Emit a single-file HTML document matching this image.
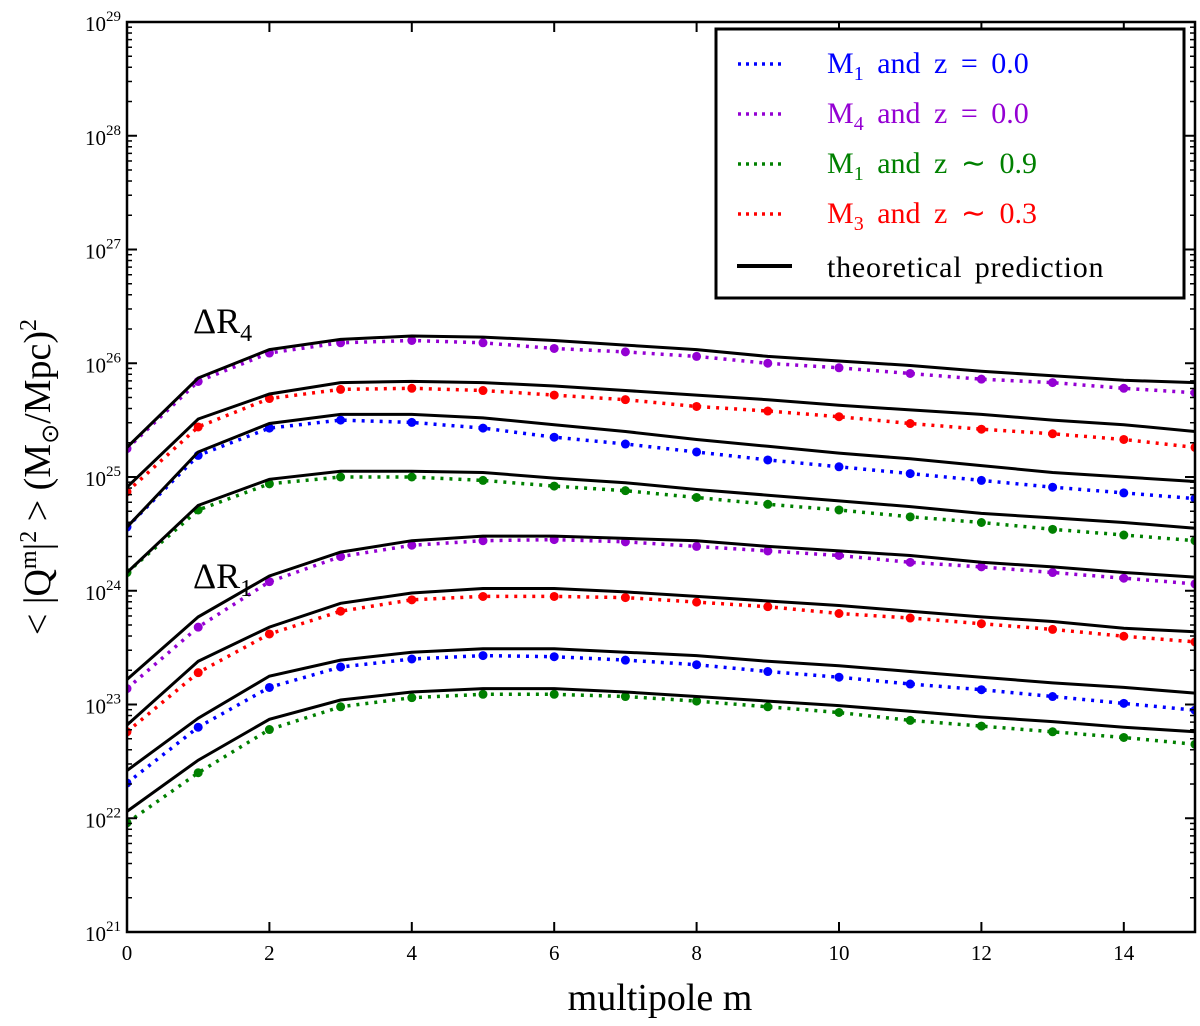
<!DOCTYPE html>
<html><head><meta charset="utf-8"><style>
html,body{margin:0;padding:0;background:#fff;}
svg{display:block;font-family:"Liberation Serif",serif;}
</style></head><body>
<svg id="chart" width="1200" height="1026" viewBox="0 0 1200 1026" xmlns="http://www.w3.org/2000/svg">
<g id="grid"></g>
<g id="series"></g>
<g id="axes"></g>
<g id="legend">
  <rect x="716" y="29" width="468" height="269" fill="#fff" stroke="#000" stroke-width="3"/>
  <g>
    <line x1="738" y1="64" x2="786" y2="64" stroke="#0000ff" stroke-width="3.5" stroke-dasharray="3,5"/>
    <text x="827" y="73" font-size="30" fill="#0000ff" word-spacing="6">M<tspan font-size="20" dy="7">1</tspan><tspan dy="-7"> and z = 0.0</tspan></text>
  </g>
  <g>
    <line x1="738" y1="114" x2="786" y2="114" stroke="#9400d3" stroke-width="3.5" stroke-dasharray="3,5"/>
    <text x="827" y="123" font-size="30" fill="#9400d3" word-spacing="6">M<tspan font-size="20" dy="7">4</tspan><tspan dy="-7"> and z = 0.0</tspan></text>
  </g>
  <g>
    <line x1="738" y1="164" x2="786" y2="164" stroke="#008000" stroke-width="3.5" stroke-dasharray="3,5"/>
    <text x="827" y="173" font-size="30" fill="#008000" word-spacing="6">M<tspan font-size="20" dy="7">1</tspan><tspan dy="-7"> and z ∼ 0.9</tspan></text>
  </g>
  <g>
    <line x1="738" y1="214" x2="786" y2="214" stroke="#ff0000" stroke-width="3.5" stroke-dasharray="3,5"/>
    <text x="827" y="223" font-size="30" fill="#ff0000" word-spacing="6">M<tspan font-size="20" dy="7">3</tspan><tspan dy="-7"> and z ∼ 0.3</tspan></text>
  </g>
  <g>
    <line x1="737" y1="266" x2="792" y2="266" stroke="#000" stroke-width="4"/>
    <text x="827" y="277" font-size="30" fill="#000" word-spacing="4" letter-spacing="0.8">theoretical prediction</text>
  </g>
</g>
<text x="193" y="333" font-size="36">ΔR<tspan font-size="24" dy="8">4</tspan></text>
<text x="193" y="588" font-size="36">ΔR<tspan font-size="24" dy="8">1</tspan></text>
<text x="660" y="1010" font-size="38" text-anchor="middle">multipole m</text>
<text transform="translate(50,477) rotate(-90)" font-size="38" text-anchor="middle">&lt; |Q<tspan font-size="24" dy="-14">m</tspan><tspan dy="14">|</tspan><tspan font-size="24" dy="-14">2</tspan><tspan dy="14"> &gt; (M</tspan><tspan font-size="24" dy="8">⊙</tspan><tspan dy="-8">/Mpc)</tspan><tspan font-size="24" dy="-14">2</tspan></text>
</svg>
<script>
const mValues = [0,1,2,3,4,5,6,7,8,9,10,11,12,13,14,15];
const xTicks = [0,2,4,6,8,10,12,14];
const yDecades = [21,22,23,24,25,26,27,28,29];
// log10 values
const r4PurpleTheory = [25.26,25.87,26.12,26.21,26.24,26.23,26.20,26.16,26.12,26.06,26.02,25.98,25.93,25.89,25.85,25.83];
const r4Purple = [25.25,25.84,26.09,26.18,26.20,26.18,26.13,26.10,26.06,26.00,25.96,25.91,25.86,25.83,25.78,25.74];
const r4RedTheory = [24.91,25.51,25.73,25.83,25.84,25.83,25.80,25.76,25.72,25.68,25.63,25.59,25.55,25.50,25.46,25.40];
const r4Red = [24.87,25.44,25.69,25.77,25.78,25.76,25.72,25.68,25.62,25.58,25.53,25.47,25.42,25.38,25.33,25.26];
const r4BlueTheory = [24.56,25.22,25.47,25.55,25.55,25.52,25.46,25.40,25.33,25.27,25.21,25.16,25.10,25.04,25.00,24.96];
const r4Blue = [24.56,25.19,25.43,25.50,25.48,25.43,25.35,25.29,25.22,25.15,25.09,25.03,24.97,24.91,24.86,24.81];
const r4GreenTheory = [24.16,24.75,24.98,25.05,25.05,25.04,24.99,24.95,24.89,24.84,24.79,24.74,24.68,24.64,24.60,24.55];
const r4Green = [24.16,24.71,24.94,25.00,25.00,24.97,24.92,24.88,24.82,24.76,24.71,24.65,24.60,24.54,24.49,24.44];
const r1PurpleTheory = [23.22,23.77,24.13,24.34,24.44,24.48,24.48,24.46,24.44,24.39,24.35,24.31,24.25,24.21,24.16,24.12];
const r1Purple = [23.14,23.68,24.08,24.30,24.40,24.44,24.45,24.43,24.39,24.35,24.31,24.25,24.21,24.16,24.11,24.06];
const r1RedTheory = [22.82,23.38,23.68,23.89,23.98,24.02,24.02,23.99,23.95,23.91,23.87,23.82,23.77,23.73,23.67,23.64];
const r1Red = [22.76,23.28,23.62,23.82,23.92,23.95,23.95,23.94,23.90,23.86,23.80,23.76,23.71,23.66,23.60,23.55];
const r1BlueTheory = [22.42,22.88,23.25,23.39,23.46,23.49,23.49,23.46,23.43,23.38,23.34,23.29,23.24,23.19,23.15,23.10];
const r1Blue = [22.31,22.80,23.15,23.33,23.40,23.43,23.42,23.39,23.35,23.29,23.24,23.18,23.13,23.07,23.01,22.95];
const r1GreenTheory = [22.06,22.51,22.87,23.04,23.11,23.14,23.14,23.11,23.07,23.03,22.99,22.94,22.89,22.85,22.80,22.76];
const r1Green = [21.96,22.40,22.78,22.98,23.06,23.09,23.09,23.07,23.03,22.98,22.93,22.86,22.81,22.76,22.71,22.65];

const X0=127,X1=1195,Y0=22,Y1=932;
const xs = m => X0 + (m-0)/(15-0)*(X1-X0);
const ys = l => Y0 + (29-l)/(29-21)*(Y1-Y0);
const NS="http://www.w3.org/2000/svg";
function mk(tag, attrs, parent){const e=document.createElementNS(NS,tag);for(const k in attrs)e.setAttribute(k,attrs[k]);parent.appendChild(e);return e;}

const series = document.getElementById('series');
const clip = mk('clipPath',{id:'plotclip'},series);
mk('rect',{x:X0,y:Y0,width:X1-X0,height:Y1-Y0},clip);
const sg = mk('g',{'clip-path':'url(#plotclip)'},series);

function pts(arr){return arr.map((v,i)=>xs(mValues[i]).toFixed(1)+','+ys(v).toFixed(1)).join(' ');}
function drawObs(arr,color,name){
  const pl = mk('polyline',{points:pts(arr),fill:'none',stroke:color,'stroke-width':3.5,'stroke-dasharray':'3,6'},sg);
  
  
  arr.forEach((v,i)=>{
    const c = mk('circle',{cx:xs(mValues[i]),cy:ys(v),r:4.5,fill:color},sg);
    
    
  });
}
function drawTheory(arr,name){
  const pl = mk('polyline',{points:pts(arr),fill:'none',stroke:'#000','stroke-width':3},sg);
  
  
}
const obs = [[r4Purple,'#9400d3','r4-m4'],[r4Red,'#ff0000','r4-m3'],[r4Blue,'#0000ff','r4-m1'],[r4Green,'#008000','r4-m1-z09'],
             [r1Purple,'#9400d3','r1-m4'],[r1Red,'#ff0000','r1-m3'],[r1Blue,'#0000ff','r1-m1'],[r1Green,'#008000','r1-m1-z09']];
obs.forEach(o=>drawObs(o[0],o[1],o[2]));
[[r4PurpleTheory,'r4-m4-theory'],[r4RedTheory,'r4-m3-theory'],[r4BlueTheory,'r4-m1-theory'],[r4GreenTheory,'r4-m1-z09-theory'],
 [r1PurpleTheory,'r1-m4-theory'],[r1RedTheory,'r1-m3-theory'],[r1BlueTheory,'r1-m1-theory'],[r1GreenTheory,'r1-m1-z09-theory']].forEach(t=>drawTheory(t[0],t[1]));

const axes = document.getElementById('axes');
const frame = mk('rect',{x:X0,y:Y0,width:X1-X0,height:Y1-Y0,fill:'none',stroke:'#000','stroke-width':2.5},axes);


xTicks.forEach(t=>{
  const x=xs(t);
  mk('line',{x1:x,y1:Y1,x2:x,y2:Y1-10,stroke:'#000','stroke-width':2},axes);
  mk('line',{x1:x,y1:Y0,x2:x,y2:Y0+10,stroke:'#000','stroke-width':2},axes);
  const tx = mk('text',{x:x,y:Y1+28,'font-size':21,'text-anchor':'middle'},axes);
  tx.textContent = t;
  
  
});
yDecades.forEach(d=>{
  const y=ys(d);
  mk('line',{x1:X0,y1:y,x2:X0+10,y2:y,stroke:'#000','stroke-width':2},axes);
  mk('line',{x1:X1,y1:y,x2:X1-10,y2:y,stroke:'#000','stroke-width':2},axes);
  const tx = mk('text',{x:X0-6,y:y+9,'font-size':21,'text-anchor':'end'},axes);
  
  
  const a = mk('tspan',{},tx); a.textContent='10';
  const b = mk('tspan',{'font-size':15,dy:-10}, tx); b.textContent=d;
  if(d<29){
    for(let k=2;k<=9;k++){
      const ym = ys(d+Math.log10(k));
      mk('line',{x1:X0,y1:ym,x2:X0+5,y2:ym,stroke:'#000','stroke-width':1.5},axes);
      mk('line',{x1:X1,y1:ym,x2:X1-5,y2:ym,stroke:'#000','stroke-width':1.5},axes);
    }
  }
});
</script>
</body></html>
